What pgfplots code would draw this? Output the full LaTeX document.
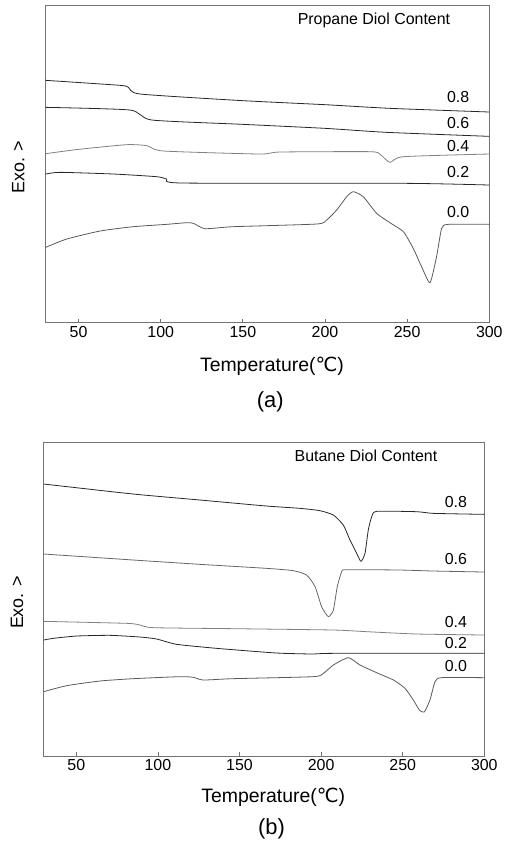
\documentclass[border=0pt]{standalone}
\usepackage{fontspec}
\setmainfont{Liberation Sans}
\newfontfamily\dejavu{DejaVu Sans}
\usepackage{pgfplots}
\pgfplotsset{compat=1.18}
\tikzset{
  dk/.style={black!85, line width=0.8pt, smooth, tension=0.35},
  gy/.style={black!50, line width=0.8pt, smooth, tension=0.35},
  lab/.style={font=\fontsize{16}{18}\selectfont, anchor=center},
}
\pgfplotsset{
  dscstyle/.style={
    scale only axis,
    xmin=30, xmax=300, ymin=0,
    xtick={50,100,150,200,250,300},
    ytick=\empty,
    xtick pos=bottom,
    tick align=inside,
    major tick length=4bp,
    axis line style={black!55, line width=0.8pt},
    tick style={black!55, line width=0.8pt},
    /pgf/number format/assume math mode=true,
    ticklabel style={font=\fontsize{16}{18}\selectfont},
    xlabel style={font=\fontsize{19.5}{22}\selectfont, anchor=center},
    ylabel style={font=\fontsize{18}{20}\selectfont, anchor=center, rotate=0},
    clip=false,
  },
}
\begin{document}
\begin{tikzpicture}
\useasboundingbox (0,0) rectangle (505bp,-846bp);
% ---------------- (a) ----------------
\begin{axis}[dscstyle,
  at={(45.7bp,-5bp)}, anchor=north west,
  width=443.6bp, height=317.7bp, ymax=953,
  xlabel={Temperature({\dejavu ℃})},
  xlabel style={at={(axis description cs:0.51,-0.136)}},
  ylabel={Exo. >},
  ylabel style={at={(axis description cs:-0.062,0.49)}},
]
% 0.8
\addplot[dk] coordinates {(30,727) (75.2,712) (80.3,706) (87.4,686) (150,666) (200,654) (239.5,643) (300,632)};
% 0.6
\addplot[dk] coordinates {(30,646) (81.3,638) (94.5,608) (150,595) (200,583) (237.5,571) (300,559)};
% 0.4
\addplot[gy] coordinates {(30,507) (50,520) (79.3,534) (91.5,531) (101.6,515) (160.4,506) (172.6,512) (227.4,513) (233.5,505) (239.5,481) (247.7,498) (300,506)};
% 0.2
\addplot[dk] coordinates {(30,446) (38.7,451) (71.2,446) (97.5,438) (103.6,431) (112.8,419) (250,418) (300,413)};
% 0.0
\addplot[gy, black!65] coordinates {(30,226) (42.8,251) (63.1,275) (83.3,288) (103.6,295) (115.8,300) (119.9,298) (127.0,282) (144.2,288) (194.9,296) (201.0,308) (207.1,338) (213.2,378) (217.2,393) (223.3,378) (231.4,328) (239.5,300) (247.7,273) (253.7,223) (258.8,168) (263.9,120) (267.9,198) (271.0,283) (275.0,295) (300,295)};
\node[lab] at (axis cs:281,678) {0.8};
\node[lab] at (axis cs:281,600) {0.6};
\node[lab] at (axis cs:281,531) {0.4};
\node[lab] at (axis cs:281,453) {0.2};
\node[lab] at (axis cs:281,331) {0.0};
\node[lab] at (axis cs:229.8,908) {Propane Diol Content};
\node[font=\fontsize{22}{24}\selectfont, anchor=center] at (axis description cs:0.506,-0.248) {(a)};
\end{axis}
% ---------------- (b) ----------------
\begin{axis}[dscstyle,
  at={(43.7bp,-442.7bp)}, anchor=north west,
  width=440.6bp, height=313.3bp, ymax=940,
  xlabel={Temperature({\dejavu ℃})},
  xlabel style={at={(axis description cs:0.521,-0.1325)}},
  ylabel={Exo. >},
  ylabel style={at={(axis description cs:-0.0606,0.49)}},
]
% 0.8
\addplot[dk] coordinates {(30,816) (84.9,786) (125.8,768) (166.6,750) (187.1,743) (199.3,736) (207.5,723) (213.6,693) (217.7,648) (221.8,608) (224.4,584) (226.9,608) (228.9,678) (231.0,718) (234.0,734) (258.5,733) (268.8,728) (300,725)};
% 0.6
\addplot[gy, black!60] coordinates {(30,606) (84.9,588) (125.8,575) (166.6,563) (183.0,556) (191.1,543) (196.3,508) (200.3,448) (204.4,418) (207.5,438) (209.9,508) (212.6,553) (215.7,559) (248.3,558) (268.8,555) (300,552)};
% 0.4
\addplot[gy] coordinates {(30,404) (80.9,398) (89.0,393) (97.2,385) (146.2,382) (207.5,378) (227.9,373) (258.5,366) (300,363)};
% 0.2
\addplot[dk] coordinates {(30,348) (35.9,353) (50.2,360) (70.6,362) (89.0,357) (99.2,351) (111.5,335) (136.0,323) (166.6,311) (176.9,308) (195.2,306) (207.5,308) (300,308)};
% 0.0
\addplot[gy, black!65] coordinates {(30,193) (44.1,211) (64.5,225) (84.9,232) (113.5,238) (121.7,236) (127.8,228) (146.2,232) (195.2,238) (201.4,248) (207.5,273) (216.7,295) (223.8,273) (234.0,250) (244.3,228) (251.4,203) (256.5,168) (260.2,138) (263.2,132) (266.7,168) (269.8,223) (273.9,235) (300,235)};
\node[lab] at (axis cs:282.6,761) {0.8};
\node[lab] at (axis cs:282.6,591) {0.6};
\node[lab] at (axis cs:282.6,403) {0.4};
\node[lab] at (axis cs:282.6,338) {0.2};
\node[lab] at (axis cs:282.6,271) {0.0};
\node[lab] at (axis cs:227.5,900) {Butane Diol Content};
\node[font=\fontsize{22}{24}\selectfont, anchor=center] at (axis description cs:0.517,-0.234) {(b)};
\end{axis}
\end{tikzpicture}
\end{document}
